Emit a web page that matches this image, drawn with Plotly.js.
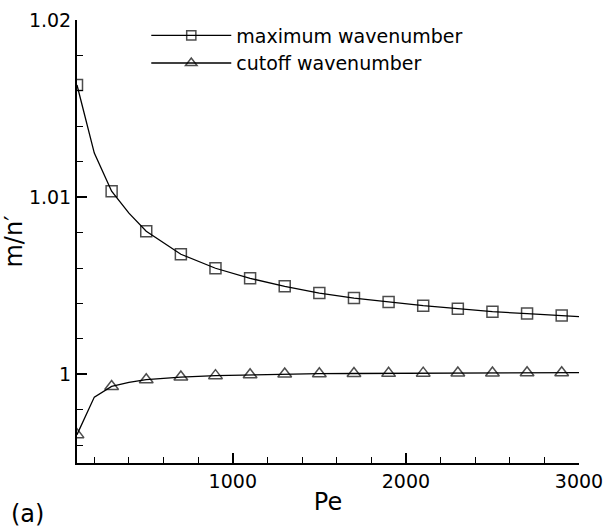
<!DOCTYPE html>
<html>
<head>
<meta charset="utf-8">
<script src="https://cdn.plot.ly/plotly-3.0.1.min.js"></script>
<style>html,body{margin:0;padding:0;background:#fff;}#chart{width:606px;height:529px;}</style>
</head>
<body>
<div id="chart"></div>
<script>
// Curve points (Pe, m/n')
const pe = [100, 200, 300, 400, 500, 700, 900, 1100, 1300, 1500, 1700, 1900, 2100, 2300, 2500, 2700, 2900, 3000];
const maxWave = [1.01633, 1.01249, 1.01034, 1.00910, 1.00808, 1.00678, 1.00599, 1.00542, 1.00497, 1.00459, 1.00431, 1.00408, 1.00388, 1.00371, 1.00354, 1.00343, 1.00332, 1.00326];
const cutWave = [0.99660, 0.99872, 0.99932, 0.99955, 0.99970, 0.99985, 0.99993, 0.99998, 1.00002, 1.00004, 1.00005, 1.00006, 1.00007, 1.00008, 1.00008, 1.00009, 1.00009, 1.00010];
// Pe values that carry a symbol
const markerPe = [100, 300, 500, 700, 900, 1100, 1300, 1500, 1700, 1900, 2100, 2300, 2500, 2700, 2900];

const seriesNames = ['maximum wavenumber', 'cutoff wavenumber'];
const yTickVals = [1, 1.01, 1.02];
const yTickText = ['1', '1.01', '1.02'];
const xTickVals = [1000, 2000, 3000];

const FONT = 'DejaVu Sans, Liberation Sans, Arial, sans-serif';
const sizes = (s) => pe.map(x => markerPe.includes(x) ? s : 0);

const traces = [
  {x: pe, y: maxWave, mode: 'lines+markers', name: seriesNames[0],
   line: {color: '#000', width: 1.3},
   marker: {symbol: 'square-open', size: sizes(11), color: '#000', line: {width: 1.5, color: '#000'}}},
  {x: pe, y: cutWave, mode: 'lines+markers', name: seriesNames[1],
   line: {color: '#000', width: 1.3},
   marker: {symbol: 'triangle-up-open', size: sizes(12), color: '#000', line: {width: 1.5, color: '#000'}}}
];

const layout = {
  width: 606, height: 529,
  margin: {l: 77, r: 27, t: 20, b: 66},
  paper_bgcolor: '#fff', plot_bgcolor: '#fff',
  font: {family: FONT, size: 19, color: '#000'},
  showlegend: true,
  legend: {x: 0.138, y: 1.008, xanchor: 'left', yanchor: 'top', bgcolor: 'rgba(0,0,0,0)',
           font: {family: FONT, size: 19, color: '#000'}, itemwidth: 80},
  xaxis: {
    range: [100, 3000], tickmode: 'array', tickvals: xTickVals,
    ticks: 'inside', ticklen: 10, tickwidth: 2, tickcolor: '#000',
    showline: true, linewidth: 2, linecolor: '#000', showgrid: false, zeroline: false,
    tickfont: {family: FONT, size: 19, color: '#000'},
    minor: {dtick: 200, tick0: 0, ticks: 'inside', ticklen: 6, tickwidth: 1, tickcolor: '#000', showgrid: false},
    title: {text: 'Pe', font: {family: FONT, size: 24, color: '#000'}, standoff: 2}
  },
  yaxis: {
    range: [0.995, 1.02], tickmode: 'array', tickvals: yTickVals, ticktext: yTickText,
    ticks: 'inside', ticklen: 10, tickwidth: 2, tickcolor: '#000',
    showline: true, linewidth: 2, linecolor: '#000', showgrid: false, zeroline: false,
    tickfont: {family: FONT, size: 19, color: '#000'},
    minor: {dtick: 0.002, tick0: 0.996, ticks: 'inside', ticklen: 6, tickwidth: 1, tickcolor: '#000', showgrid: false},
    title: {text: 'm/n′', font: {family: FONT, size: 24, color: '#000'}, standoff: 0}
  },
  annotations: [
    {text: '(a)', xref: 'paper', yref: 'paper', x: -0.135, y: -0.115, xanchor: 'left', yanchor: 'middle',
     showarrow: false, font: {family: FONT, size: 24, color: '#000'}}
  ]
};

Plotly.newPlot('chart', traces, layout, {staticPlot: true, displayModeBar: false});
</script>
</body>
</html>
